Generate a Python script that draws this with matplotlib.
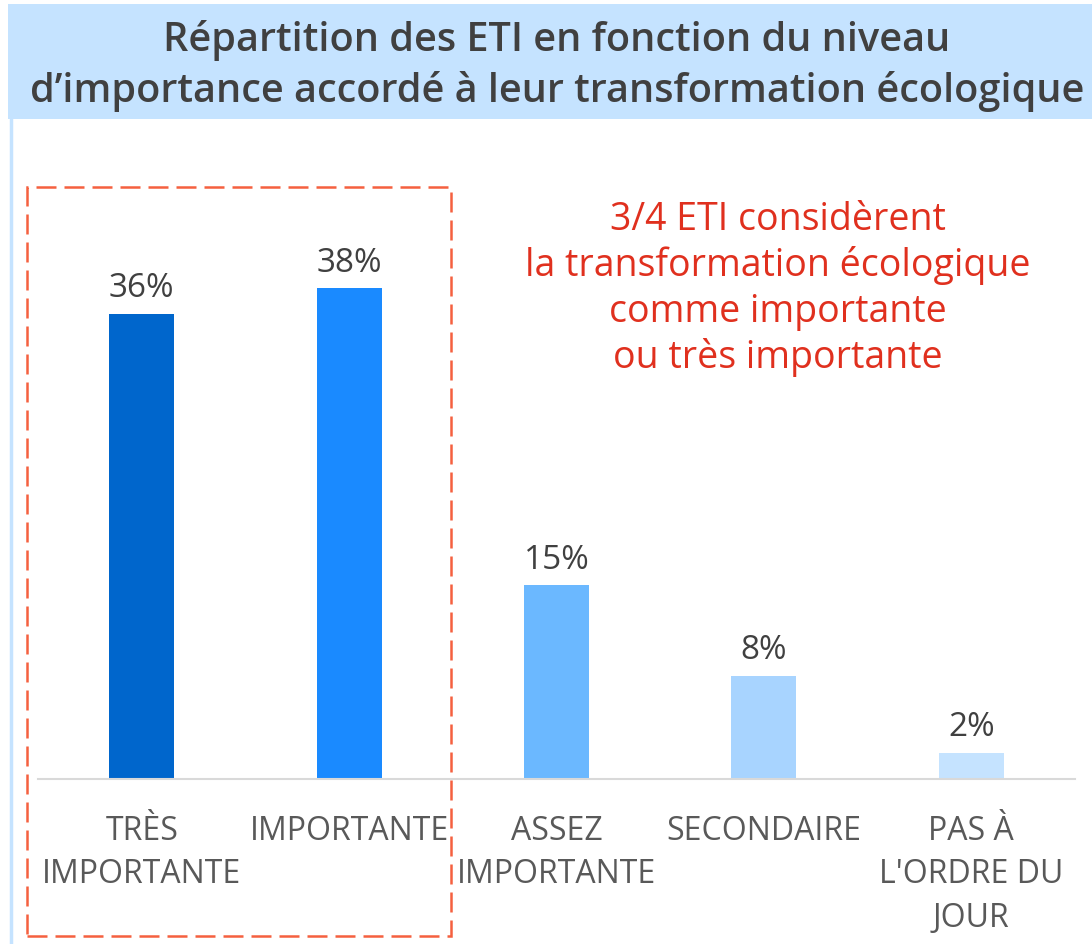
import matplotlib
matplotlib.use("Agg")
import matplotlib.pyplot as plt
from matplotlib.patches import Rectangle
from matplotlib.lines import Line2D

categories = ["TRÈS\nIMPORTANTE", "IMPORTANTE", "ASSEZ\nIMPORTANTE", "SECONDAIRE", "PAS À\nL'ORDRE DU\nJOUR"]
values = [36, 38, 15, 8, 2]
value_labels = ["36%", "38%", "15%", "8%", "2%"]
bar_colors = ["#0066CC", "#1A8AFF", "#6BB8FF", "#A8D4FF", "#C5E3FF"]

title = "Répartition des ETI en fonction du niveau\nd\u2019importance accordé à leur transformation écologique"
annotation = "3/4 ETI considèrent\nla transformation écologique\ncomme importante\nou très importante"

plt.rcParams['font.family'] = ['Open Sans', 'DejaVu Sans']

W, H = 1092, 945
fig = plt.figure(figsize=(W / 100, H / 100), dpi=100)

def fx(px):
    return px / W

def fy(py):
    return 1 - py / H

# Title band
fig.patches.append(Rectangle((fx(8), fy(120)), 1 - fx(8), fy(5) - fy(120),
                             transform=fig.transFigure, facecolor="#C5E3FF",
                             edgecolor="none", zorder=0))
# Left vertical line
fig.lines.append(Line2D([fx(10.5), fx(10.5)], [0, fy(120)], transform=fig.transFigure,
                        color="#C5E3FF", lw=2.5))

fig.text(fx(557), fy(66), title, ha="center", va="center", fontsize=28.5,
         fontweight="semibold", color="#404040", linespacing=1.3)

ax = fig.add_axes([fx(38), fy(780), fx(1075) - fx(38), (780 - 199) / H])
x = range(len(values))
bars = ax.bar(x, values, width=0.313, color=bar_colors, zorder=2)
ax.set_xlim(-0.5, len(values) - 0.5)
ax.set_ylim(0, 45)
for s in ["top", "right", "left"]:
    ax.spines[s].set_visible(False)
ax.spines["bottom"].set_color("#D9D9D9")
ax.spines["bottom"].set_linewidth(1.5)
ax.set_yticks([])
ax.set_xticks(list(x))
ax.set_xticklabels(categories, fontsize=23, color="#595959", linespacing=1.43, va="top")
ax.tick_params(axis="x", length=0, pad=25)

for b, lab in zip(bars, value_labels):
    ax.annotate(lab, (b.get_x() + b.get_width() / 2, b.get_height()),
                xytext=(0, 7), textcoords="offset points", ha="center", va="bottom",
                fontsize=24, color="#404040")

fig.text(fx(778), fy(289), annotation, ha="center", va="center", fontsize=27,
         color="#E0301E", linespacing=1.245)

# Dashed highlight box
fig.patches.append(Rectangle((fx(27), fy(937)), fx(451) - fx(27), fy(188) - fy(937),
                             transform=fig.transFigure, facecolor="none",
                             edgecolor="#F5603F", lw=1.8, linestyle=(0, (8, 3.2)),
                             zorder=5))

fig.savefig("out.png", dpi=100)
